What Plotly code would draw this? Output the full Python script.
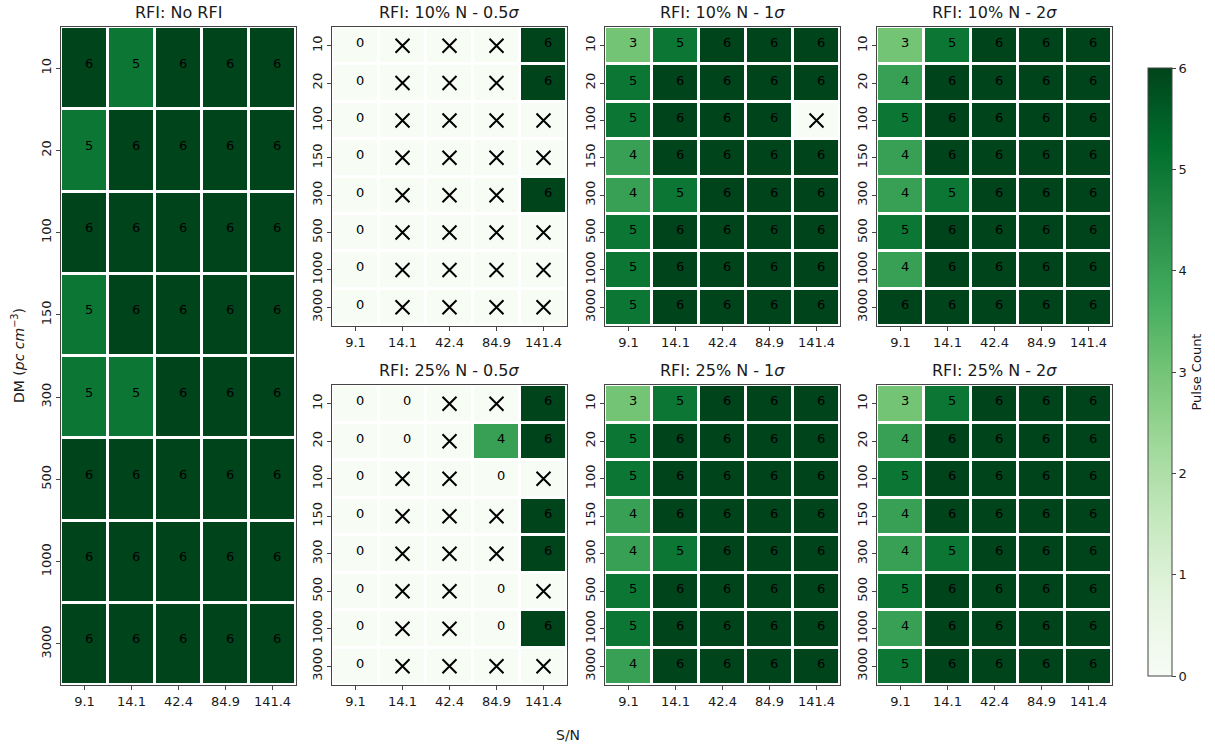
import plotly.graph_objects as go

# ---------------- data ----------------
sn_labels = ["9.1", "14.1", "42.4", "84.9", "141.4"]
dm_labels = ["10", "20", "100", "150", "300", "500", "1000", "3000"]
X = None  # cell marked with a cross

no_rfi = [
    [6, 5, 6, 6, 6],
    [5, 6, 6, 6, 6],
    [6, 6, 6, 6, 6],
    [5, 6, 6, 6, 6],
    [5, 5, 6, 6, 6],
    [6, 6, 6, 6, 6],
    [6, 6, 6, 6, 6],
    [6, 6, 6, 6, 6],
]
rfi10_05 = [
    [0, X, X, X, 6],
    [0, X, X, X, 6],
    [0, X, X, X, X],
    [0, X, X, X, X],
    [0, X, X, X, 6],
    [0, X, X, X, X],
    [0, X, X, X, X],
    [0, X, X, X, X],
]
rfi10_1 = [
    [3, 5, 6, 6, 6],
    [5, 6, 6, 6, 6],
    [5, 6, 6, 6, X],
    [4, 6, 6, 6, 6],
    [4, 5, 6, 6, 6],
    [5, 6, 6, 6, 6],
    [5, 6, 6, 6, 6],
    [5, 6, 6, 6, 6],
]
rfi10_2 = [
    [3, 5, 6, 6, 6],
    [4, 6, 6, 6, 6],
    [5, 6, 6, 6, 6],
    [4, 6, 6, 6, 6],
    [4, 5, 6, 6, 6],
    [5, 6, 6, 6, 6],
    [4, 6, 6, 6, 6],
    [6, 6, 6, 6, 6],
]
rfi25_05 = [
    [0, 0, X, X, 6],
    [0, 0, X, 4, 6],
    [0, X, X, 0, X],
    [0, X, X, X, 6],
    [0, X, X, X, 6],
    [0, X, X, 0, X],
    [0, X, X, 0, 6],
    [0, X, X, X, X],
]
rfi25_1 = [
    [3, 5, 6, 6, 6],
    [5, 6, 6, 6, 6],
    [5, 6, 6, 6, 6],
    [4, 6, 6, 6, 6],
    [4, 5, 6, 6, 6],
    [5, 6, 6, 6, 6],
    [5, 6, 6, 6, 6],
    [4, 6, 6, 6, 6],
]
rfi25_2 = [
    [3, 5, 6, 6, 6],
    [4, 6, 6, 6, 6],
    [5, 6, 6, 6, 6],
    [4, 6, 6, 6, 6],
    [4, 5, 6, 6, 6],
    [5, 6, 6, 6, 6],
    [4, 6, 6, 6, 6],
    [5, 6, 6, 6, 6],
]
titles = [
    "RFI: No RFI",
    "RFI: 10% N - 0.5<i>σ</i>",
    "RFI: 10% N - 1<i>σ</i>",
    "RFI: 10% N - 2<i>σ</i>",
    "RFI: 25% N - 0.5<i>σ</i>",
    "RFI: 25% N - 1<i>σ</i>",
    "RFI: 25% N - 2<i>σ</i>",
]
panels = [no_rfi, rfi10_05, rfi10_1, rfi10_2, rfi25_05, rfi25_1, rfi25_2]

# ---------------- layout geometry (pixels) ----------------
W, H = 1215, 747
FONT = "DejaVu Sans"
TXT = "#1a1a1a"
boxes = [  # x0, x1, y0(top), y1(bottom)
    (61, 296, 27, 685),
    (332, 567, 27, 326),
    (605, 840, 27, 326),
    (877, 1112, 27, 326),
    (332, 567, 385, 685),
    (605, 840, 385, 685),
    (877, 1112, 385, 685),
]

greens = [
    [0.0, "#f7fcf5"], [0.125, "#e5f5e0"], [0.25, "#c7e9c0"], [0.375, "#a1d99b"],
    [0.5, "#74c476"], [0.625, "#41ab5d"], [0.75, "#238b45"], [0.875, "#006d2c"],
    [1.0, "#00441b"],
]

fig = go.Figure()
annotations = []
layout_axes = {}
nx, ny = len(sn_labels), len(dm_labels)

for i, (data, title, box) in enumerate(zip(panels, titles, boxes)):
    k = "" if i == 0 else str(i + 1)
    xa, ya = "x" + k, "y" + k
    xi = list(range(nx))
    yi = list(range(ny))
    z = [[(v if v is not None else 0) for v in row] for row in data]
    fig.add_trace(go.Heatmap(
        x=xi, y=yi, z=z,
        coloraxis="coloraxis", xgap=3, ygap=3, xaxis=xa, yaxis=ya,
        hoverinfo="skip",
    ))
    cx, cy = [], []
    for r, row in enumerate(data):
        for c, v in enumerate(row):
            if v is None:
                cx.append(xi[c])
                cy.append(yi[r])
            else:
                annotations.append(dict(
                    text=str(v), x=xi[c], y=yi[r], xref=xa, yref=ya,
                    showarrow=False, xshift=4, yshift=5 if i == 0 else 3,
                    font=dict(family=FONT, size=13, color="black"),
                ))
    if cx:
        fig.add_trace(go.Scatter(
            x=cx, y=cy, mode="markers", xaxis=xa, yaxis=ya, showlegend=False,
            marker=dict(symbol="x-thin", size=14, color="black",
                        line=dict(width=2, color="black")),
            hoverinfo="skip",
        ))
    x0, x1, y0, y1 = box
    common = dict(showline=True, mirror=True, linecolor="#444", linewidth=1,
                  ticks="outside", ticklen=4, tickcolor="#444", showgrid=False,
                  zeroline=False, tickfont=dict(family=FONT, size=13, color=TXT),
                  tickmode="array")
    layout_axes["xaxis" + k] = dict(domain=[x0 / W, x1 / W], anchor=ya,
                                    range=[-0.5, nx - 0.5], tickvals=xi,
                                    ticktext=sn_labels, **common)
    layout_axes["yaxis" + k] = dict(domain=[1 - y1 / H, 1 - y0 / H], anchor=xa,
                                    range=[ny - 0.5, -0.5], tickvals=yi,
                                    ticktext=dm_labels, tickangle=-90, **common)
    annotations.append(dict(
        text=title, x=(x0 + x1) / 2 / W, y=1 - (y0 - 3) / H, xref="paper", yref="paper",
        xanchor="center", yanchor="bottom", showarrow=False,
        font=dict(family=FONT, size=16, color=TXT),
    ))

annotations.append(dict(
    text="DM (<i>pc cm</i><sup>−3</sup>)", x=18 / W, y=1 - 356 / H, xref="paper",
    yref="paper", textangle=-90, showarrow=False, xanchor="center", yanchor="middle",
    font=dict(family=FONT, size=14, color=TXT),
))
annotations.append(dict(
    text="S/N", x=568 / W, y=1 - 735 / H, xref="paper", yref="paper",
    showarrow=False, xanchor="center", yanchor="middle",
    font=dict(family=FONT, size=14, color=TXT),
))

fig.update_layout(
    width=W, height=H, margin=dict(l=0, r=0, t=0, b=0),
    paper_bgcolor="white", plot_bgcolor="white", showlegend=False,
    font=dict(family=FONT, color=TXT),
    coloraxis=dict(
        colorscale=greens, cmin=0, cmax=6,
        colorbar=dict(
            x=1148 / W, xanchor="left", xpad=0, ypad=0,
            y=1 - 372 / H, yanchor="middle", len=608, lenmode="pixels",
            thickness=24, outlinewidth=1, outlinecolor="#444",
            tickvals=[0, 1, 2, 3, 4, 5, 6], ticks="outside", ticklen=4,
            tickcolor="#444", tickfont=dict(family=FONT, size=13, color=TXT),
            title=dict(text="Pulse Count", side="right",
                       font=dict(family=FONT, size=13, color=TXT)),
        ),
    ),
    annotations=annotations,
    **layout_axes,
)

fig.write_html("out.html", config={"displayModeBar": False},
               post_script="document.body.style.margin='0';")
